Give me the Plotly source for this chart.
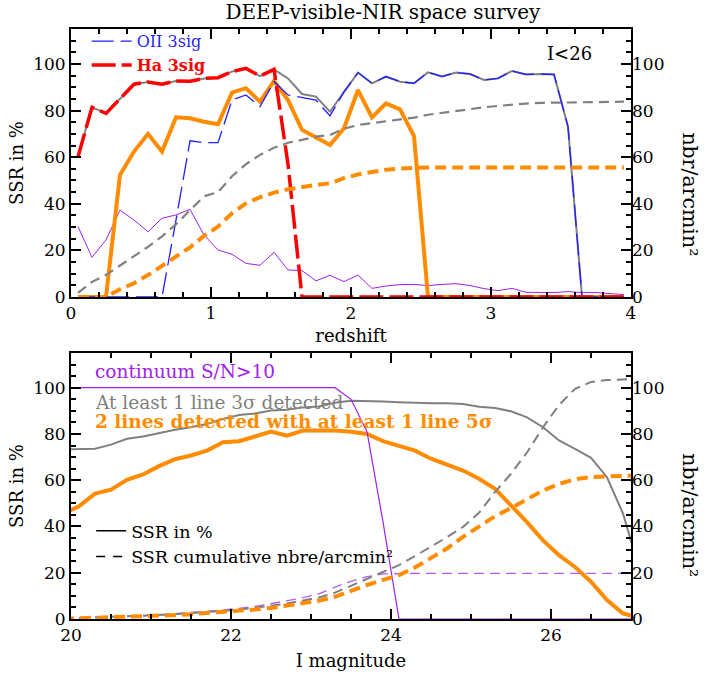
import plotly.graph_objects as go

# ---------------- top panel data (redshift bins) ----------------
z = [0.05, 0.15, 0.25, 0.35, 0.45, 0.55, 0.65, 0.75, 0.85, 0.95,
     1.05, 1.15, 1.25, 1.35, 1.45, 1.55, 1.65, 1.75, 1.85, 1.95,
     2.05, 2.15, 2.25, 2.35, 2.45, 2.55, 2.65, 2.75, 2.85, 2.95,
     3.05, 3.15, 3.25, 3.35, 3.45, 3.55, 3.65, 3.75, 3.85, 3.95]

ssr_any_z = [60.2, 81.4, 78.8, 85.0, 91.3, 92.3, 91.3, 92.7, 92.6, 93.8,
             94.1, 96.7, 98.1, 94.8, 97.7, 93.8, 87.1, 86.0, 79.5, 88.0,
             96.3, 91.7, 94.6, 92.4, 91.7, 96.4, 94.6, 96.3, 95.7, 93.1,
             93.8, 97.0, 95.5, 95.7, 95.5, 73.1, 0, 0, 0, 0]
ssr_oii_z = [0, 0, 0, 0, 0, 0, 0, 33.0, 67.0, 66.2,
             66.2, 84.5, 86.7, 81.7, 92.4, 86.7, 85.7, 84.5, 77.7, 88.0,
             96.3, 91.7, 94.6, 92.4, 91.7, 96.4, 94.6, 96.3, 95.7, 93.1,
             93.8, 97.0, 95.5, 95.7, 95.5, 73.1, 0, 0, 0, 0]
ssr_ha_z = [60.2, 81.4, 78.8, 85.0, 91.3, 92.3, 91.3, 92.7, 92.6, 93.8,
            94.1, 96.7, 98.1, 94.8, 97.7, 57.0, 0, 0, 0, 0,
            0, 0, 0, 0, 0, 0, 0, 0, 0, 0,
            0, 0, 0, 0, 0, 0, 0, 0, 0, 0]
ssr_2lines_z = [0, 0, 0, 52.4, 62.4, 70.0, 62.4, 77.1, 76.7, 75.2,
                74.1, 87.7, 89.6, 83.8, 92.7, 84.5, 71.7, 68.5, 65.2, 72.4,
                88.8, 77.1, 83.1, 80.5, 69.1, 0, 0, 0, 0, 0,
                0, 0, 0, 0, 0, 0, 0, 0, 0, 0]
ssr_cont_z = [30.2, 17.0, 24.5, 37.3, 33.0, 28.0, 33.8, 35.2, 37.6, 26.6,
              20.2, 18.3, 14.4, 13.6, 19.2, 11.6, 11.3, 6.9, 9.3, 6.6,
              9.4, 3.7, 4.7, 5.3, 5.4, 4.9, 5.4, 5.7, 4.9, 3.6,
              2.7, 3.7, 2.0, 2.0, 1.9, 2.3, 1.9, 1.9, 1.3, 1.0]
cum_any_z = [1.8, 6.5, 9.5, 13.5, 17.4, 21.5, 26.0, 31.2, 37.2, 43.2,
             45.0, 51.8, 57.0, 61.0, 64.0, 66.2, 67.4, 68.8, 69.5, 72.2,
             73.8, 74.6, 75.5, 76.3, 77.0, 78.2, 79.0, 80.0, 80.8, 81.4,
             82.0, 82.6, 83.0, 83.3, 83.4, 83.6, 83.7, 83.7, 83.8, 83.8]
cum_2lines_z = [0, 0, 0, 3.3, 5.9, 9.4, 13.3, 17.3, 21.3, 26.2,
                30.2, 35.9, 40.2, 42.8, 44.8, 46.2, 47.3, 48.1, 48.8, 51.0,
                52.6, 53.8, 54.6, 55.1, 55.5, 55.6, 55.6, 55.6, 55.6, 55.6,
                55.6, 55.6, 55.6, 55.6, 55.6, 55.6, 55.6, 55.6, 55.6, 55.6]

# ---------------- bottom panel data (I magnitude bins) ----------------
imag = [19.9, 20.1, 20.3, 20.5, 20.7, 20.9, 21.1, 21.3, 21.5, 21.7,
        21.9, 22.1, 22.3, 22.5, 22.7, 22.9, 23.1, 23.3, 23.5, 23.7,
        23.9, 24.1, 24.3, 24.5, 24.7, 24.9, 25.1, 25.3, 25.5, 25.7,
        25.9, 26.1, 26.3, 26.5, 26.7, 26.9, 27.1]

ssr_cont_i = [100, 100, 100, 100, 100, 100, 100, 100, 100, 100,
              100, 100, 100, 100, 100, 100, 100, 100, 95.0, 81.0,
              42.0, 0, 0, 0, 0, 0, 0, 0, 0, 0,
              0, 0, 0, 0, 0, 0, 0]
ssr_any_i = [73.3, 73.3, 73.6, 75.4, 77.9, 78.9, 80.5, 81.8, 82.9, 84.3,
             86.5, 88.2, 88.9, 90.1, 90.5, 91.5, 91.9, 93.5, 94.4, 94.3,
             94.0, 93.7, 93.4, 93.3, 93.3, 93.0, 91.8, 91.2, 89.8, 87.2,
             82.9, 77.2, 73.6, 69.7, 61.3, 45.6, 22.0]
ssr_2lines_i = [45.5, 48.7, 54.2, 55.9, 60.2, 62.5, 66.1, 69.1, 70.7, 72.8,
                76.4, 76.9, 78.9, 81.0, 79.3, 81.5, 81.5, 81.5, 81.0, 80.0,
                76.9, 75.0, 72.8, 69.3, 66.8, 64.2, 60.6, 56.3, 49.1, 41.9,
                34.0, 27.6, 22.5, 16.1, 8.2, 2.4, 0.5]
cum_cont_i = [0.3, 0.5, 0.7, 0.9, 1.2, 1.5, 1.9, 2.3, 2.8, 3.3,
              3.9, 4.6, 5.4, 6.6, 7.8, 9.2, 10.9, 13.8, 16.3, 18.3,
              19.5, 19.7, 19.7, 19.7, 19.7, 19.7, 19.7, 19.7, 19.7, 19.7,
              19.7, 19.7, 19.7, 19.7, 19.7, 19.7, 19.7]
cum_any_i = [0.2, 0.4, 0.6, 0.8, 1.0, 1.3, 1.7, 2.1, 2.5, 3.0,
             3.5, 4.1, 4.8, 5.7, 6.7, 7.9, 9.3, 11.4, 14.3, 17.2,
             20.2, 23.3, 27.2, 31.2, 35.4, 39.8, 45.9, 54.9, 62.8, 72.0,
             82.9, 92.5, 99.5, 102.5, 103.3, 103.6, 103.7]
cum_2lines_i = [0.1, 0.3, 0.4, 0.6, 0.8, 1.1, 1.4, 1.7, 2.1, 2.5,
                3.0, 3.5, 4.1, 4.8, 5.7, 6.7, 7.9, 9.6, 12.2, 14.7,
                16.9, 19.0, 22.3, 26.3, 30.5, 35.5, 40.0, 44.4, 48.0, 51.8,
                55.5, 58.4, 60.4, 61.4, 61.8, 61.9, 61.9]

# tick values
ssr_ticks = [0, 20, 40, 60, 80, 100]
z_ticks = [0, 1, 2, 3, 4]
i_ticks = [20, 22, 24, 26]

# ---------------- styling ----------------
FONT = "DejaVu Serif"
BLUE = "#1f1fff"
RED = "#ff0000"
ORANGE = "#ff8c00"
GRAY = "#808080"
PURPLE = "#a020f0"
PURPLE_L = "#b35cf5"

fig = go.Figure()

def add(x, y, color, width, dash="solid", xa="x", ya="y", name=None, show=False, legend="legend"):
    fig.add_trace(go.Scatter(x=x, y=y, mode="lines", xaxis=xa, yaxis=ya,
                             line=dict(color=color, width=width, dash=dash),
                             name=name, showlegend=show, legend=legend,
                             hoverinfo="x+y"))

# top panel
add(z, cum_any_z, GRAY, 2.2, "10px,6px", ya="y2")
add(z, ssr_cont_z, PURPLE, 1)
add(z, ssr_any_z, GRAY, 2)
add(z, cum_2lines_z, ORANGE, 4, "11px,6px", ya="y2")
add(z, ssr_2lines_z, ORANGE, 4)
add(z, ssr_oii_z, BLUE, 1.3, "22px,7px", name="OII 3sig", show=True)
add(z, ssr_ha_z, RED, 3.5, "24px,6px",
    name='<b><span style="color:#ff0000">Ha 3sig</span></b>', show=True)

# bottom panel
add(imag, cum_cont_i, PURPLE_L, 1.3, "10px,6px", xa="x2", ya="y4")
add(imag, cum_any_i, GRAY, 2, "10px,6px", xa="x2", ya="y4")
add(imag, cum_2lines_i, ORANGE, 4, "11px,6px", xa="x2", ya="y4")
add(imag, ssr_any_i, GRAY, 2, xa="x2", ya="y3")
add(imag, ssr_2lines_i, ORANGE, 4, xa="x2", ya="y3")
add(imag, ssr_cont_i, PURPLE, 1.2, xa="x2", ya="y3")
# legend entries (style keys only)
add([None], [None], "black", 1.5, "solid", xa="x2", ya="y3",
    name="SSR in %", show=True, legend="legend2")
add([None], [None], "black", 1.5, "9px,8px", xa="x2", ya="y3",
    name="SSR cumulative nbre/arcmin²", show=True, legend="legend2")

axis_common = dict(showline=True, linecolor="black", linewidth=2, ticks="inside",
                   ticklen=10, tickwidth=1.5, tickcolor="black", mirror="ticks",
                   showgrid=False, zeroline=False,
                   tickfont=dict(family=FONT, size=17, color="black"))
top_dom = [0.5458, 1.0]
bot_dom = [0.0, 0.4508]

fig.update_layout(
    width=712, height=677,
    margin=dict(l=71, r=81, t=29, b=58),
    paper_bgcolor="white", plot_bgcolor="white",
    font=dict(family=FONT, size=16, color="black"),
    title=dict(text="DEEP-visible-NIR space survey", x=0.557, xanchor="center",
               y=0.983, yanchor="middle", xref="paper",
               font=dict(family=FONT, size=20, color="black")),
    xaxis=dict(axis_common, domain=[0, 1], anchor="y", range=[0, 4],
               tickvals=z_ticks,
               minor=dict(dtick=0.2, ticklen=5, ticks="inside", tickcolor="black", tickwidth=1.5),
               title=dict(text="redshift", standoff=7, font=dict(family=FONT, size=18)),
               automargin=False),
    yaxis=dict(axis_common, domain=top_dom, anchor="x", range=[0, 115],
               tickvals=ssr_ticks,
               minor=dict(dtick=5, ticklen=5, ticks="inside", tickcolor="black", tickwidth=1.5),
               title=dict(text="SSR in %", standoff=5, font=dict(family=FONT, size=18)),
               automargin=False),
    yaxis2=dict(overlaying="y", side="right", anchor="x", range=[0, 115],
                tickvals=ssr_ticks, showline=False, ticks="", showgrid=False,
                zeroline=False, tickfont=dict(family=FONT, size=17, color="black"),
                automargin=False),
    xaxis2=dict(axis_common, domain=[0, 1], anchor="y3", range=[20, 27],
                tickvals=i_ticks,
                minor=dict(dtick=0.5, ticklen=5, ticks="inside", tickcolor="black", tickwidth=1.5),
                title=dict(text="I magnitude", standoff=10, font=dict(family=FONT, size=18)),
                automargin=False),
    yaxis3=dict(axis_common, domain=bot_dom, anchor="x2", range=[0, 115],
                tickvals=ssr_ticks,
                minor=dict(dtick=5, ticklen=5, ticks="inside", tickcolor="black", tickwidth=1.5),
                title=dict(text="SSR in %", standoff=5, font=dict(family=FONT, size=18)),
                automargin=False),
    yaxis4=dict(overlaying="y3", side="right", anchor="x2", range=[0, 115],
                tickvals=ssr_ticks, showline=False, ticks="", showgrid=False,
                zeroline=False, tickfont=dict(family=FONT, size=17, color="black"),
                automargin=False),
    legend=dict(x=0.028, y=1.008, xanchor="left", yanchor="top",
                bgcolor="rgba(0,0,0,0)", borderwidth=0, tracegroupgap=0,
                itemwidth=40, font=dict(family=FONT, size=16, color=BLUE)),
    legend2=dict(x=0.036, y=0.18, xanchor="left", yanchor="top",
                 bgcolor="rgba(0,0,0,0)", borderwidth=0, tracegroupgap=0,
                 itemwidth=30, font=dict(family=FONT, size=17.5, color="black")),
    showlegend=True,
)

annots = [
    dict(text="I<26", x=3.56, y=104.7, xref="x", yref="y", showarrow=False,
         font=dict(family=FONT, size=18, color="black")),
    dict(text="continuum S/N>10", x=20.27, y=106.9, xref="x2", yref="y3",
         xanchor="left", showarrow=False, font=dict(family=FONT, size=18.5, color=PURPLE)),
    dict(text="At least 1 line 3σ detected", x=20.27, y=93.5, xref="x2", yref="y3",
         xanchor="left", showarrow=False, font=dict(family=FONT, size=18.5, color=GRAY)),
    dict(text="<b>2 lines detected with at least 1 line 5σ</b>", x=20.27, y=85.3,
         xref="x2", yref="y3", xanchor="left", showarrow=False,
         font=dict(family=FONT, size=18.5, color=ORANGE)),
    dict(text="nbr/arcmin²", x=1.105, y=0.72, xref="paper", yref="paper",
         xanchor="center", yanchor="middle",
         textangle=90, showarrow=False, font=dict(family=FONT, size=20.5, color="black")),
    dict(text="nbr/arcmin²", x=1.105, y=0.176, xref="paper", yref="paper",
         xanchor="center", yanchor="middle",
         textangle=90, showarrow=False, font=dict(family=FONT, size=20.5, color="black")),
]
fig.update_layout(annotations=annots)

fig.write_html("out.html", config={"displayModeBar": False},
               post_script="document.body.style.margin='0';document.body.style.padding='0';")
